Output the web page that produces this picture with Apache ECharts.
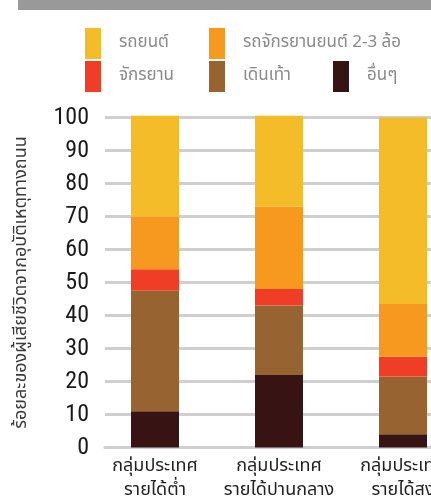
<!DOCTYPE html>
<html>
<head>
<meta charset="utf-8">
<script src="https://cdn.jsdelivr.net/npm/echarts@6/dist/echarts.min.js"></script>
<style>
  html, body { margin: 0; padding: 0; background: #ffffff; }
  #chart { width: 431px; height: 496px; }
</style>
</head>
<body>
<div id="chart"></div>
<script>
// Income groups along the x axis
const categories = ['กลุ่มประเทศ\nรายได้ต่ำ', 'กลุ่มประเทศ\nรายได้ปานกลาง', 'กลุ่มประเทศ\nรายได้สูง'];

// Share of road deaths (%) by road-user type, bottom to top of each stack
const otherUsers  = [11, 22, 4];
const pedestrians = [36.5, 21, 17.5];
const cyclists    = [6.5, 5, 6];
const motorcycles = [16, 25, 16];
const cars        = [30.5, 27.5, 56.5];

const seriesNames = ['อื่นๆ', 'เดินเท้า', 'จักรยาน', 'รถจักรยานยนต์ 2-3 ล้อ', 'รถยนต์'];
const seriesColors = ['#371314', '#976331', '#EF3E25', '#F8991F', '#F4BC29'];
const seriesValues = [otherUsers, pedestrians, cyclists, motorcycles, cars];

const yMin = 0, yMax = 100, yStep = 10;

const thaiFont = "'Noto Sans Thai', 'Loma', 'Garuda', 'Tlwg Typo', 'Noto Sans', 'DejaVu Sans', sans-serif";
const numFont = "'Liberation Sans Narrow', 'Roboto Condensed', 'DejaVu Sans Condensed', sans-serif";

const gridColor = '#cfcfcf';

// legend entries: name, left, top
const legendSlots = [
  ['รถยนต์', 80, 23],
  ['รถจักรยานยนต์ 2-3 ล้อ', 204, 23],
  ['จักรยาน', 80, 56],
  ['เดินเท้า', 204, 56],
  ['อื่นๆ', 328, 56]
];

const chart = echarts.init(document.getElementById('chart'), null, { renderer: 'canvas' });

chart.setOption({
  backgroundColor: '#ffffff',
  animation: false,
  graphic: [{
    type: 'rect',
    shape: { x: 18, y: 0, width: 420, height: 10 },
    style: { fill: '#999999' }
  }],
  legend: legendSlots.map(([name, left, top]) => ({
    data: [name],
    left: left,
    top: top,
    itemWidth: 16,
    itemHeight: 31,
    itemGap: 0,
    icon: 'rect',
    selectedMode: false,
    textStyle: { color: '#8a8a8a', fontSize: 17, fontFamily: thaiFont, padding: [0, 0, 0, 13] }
  })),
  grid: [
    { left: 105, right: -60, top: 117.5, bottom: 48.5, outerBoundsMode: 'none' },
    { left: 93, width: 372, top: 117.5, bottom: 48.5, outerBoundsMode: 'none' }
  ],
  xAxis: [
    {
      gridIndex: 0, type: 'category', data: [''],
      axisLine: { show: true, lineStyle: { color: gridColor, width: 3 } },
      axisTick: { show: false }, axisLabel: { show: false }
    },
    {
      gridIndex: 1, type: 'category', data: categories,
      axisLine: { show: false }, axisTick: { show: false },
      axisLabel: { interval: 0, color: '#222222', fontSize: 18, lineHeight: 24, fontFamily: thaiFont, margin: 8 }
    }
  ],
  yAxis: [
    {
      gridIndex: 0, type: 'value', min: yMin, max: yMax, interval: yStep,
      name: 'ร้อยละของผู้เสียชีวิตจากอุบัติเหตุทางถนน',
      nameLocation: 'middle', nameGap: 74, nameRotate: 90,
      nameTextStyle: { color: '#3a3a3a', fontSize: 18, fontFamily: thaiFont },
      axisLine: { show: false }, axisTick: { show: false },
      axisLabel: { color: '#1a1a1a', fontSize: 24, fontFamily: numFont, margin: 16 },
      splitLine: { show: true, lineStyle: { color: gridColor, width: 3 } }
    },
    {
      gridIndex: 1, type: 'value', min: yMin, max: yMax, interval: yStep,
      show: false, splitLine: { show: false }
    }
  ],
  series: seriesValues.map((vals, i) => ({
    name: seriesNames[i],
    type: 'bar',
    stack: 'share',
    xAxisIndex: 1,
    yAxisIndex: 1,
    barWidth: 48,
    clip: false,
    itemStyle: { color: seriesColors[i] },
    data: vals
  }))
});
</script>
</body>
</html>
